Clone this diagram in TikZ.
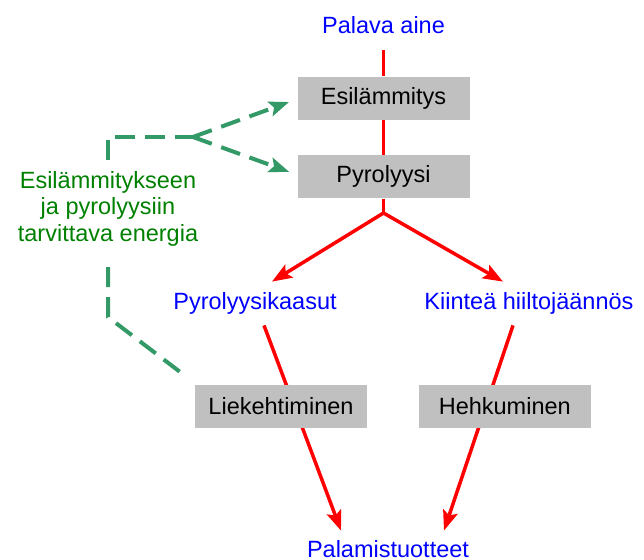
\documentclass[tikz,border=0pt]{standalone}
\usepackage{fontspec}
\setmainfont{Liberation Sans}
\usepackage{tikz}
\usetikzlibrary{arrows.meta, positioning}

\definecolor{harmaa}{RGB}{192,192,192}
\definecolor{vihrea}{RGB}{0,128,0}
\definecolor{merivihrea}{RGB}{51,153,102}

\begin{document}
\begin{tikzpicture}[x=0.5pt,y=-0.5pt,font=\fontsize{11.75}{13.25}\selectfont,
    >={Stealth[length=10pt,width=7.5pt,inset=2pt]}]
  \tikzstyle{laatikko}=[fill=harmaa,minimum width=86pt,minimum height=21.5pt,inner sep=0pt]
  \tikzstyle{aine}=[text=blue,text height=9pt,text depth=2.5pt,inner sep=0pt]
  \tikzstyle{virta}=[red,line width=1.75pt]
  \tikzstyle{lampo}=[merivihrea,line width=2pt,dash pattern=on 10pt off 5pt]

  \useasboundingbox (0,0) rectangle (644,559);

  \node[aine]                      (palava)   at (383.5,26.5)  {Palava aine};
  \node[laatikko]                  (esi)      at (383.5,98)    {Esilämmitys};
  \node[laatikko]                  (pyro)     [below=17.5pt of esi] {Pyrolyysi};
  \node[aine]                      (kaasut)   at (255,302.5)   {Pyrolyysikaasut};
  \node[aine]                      (hiili)    at (529,302.5)   {Kiinteä hiiltojäännös};
  \node[aine]                      (tuotteet) at (388,550.5)   {Palamistuotteet};
  \node[text=vihrea,align=center,minimum height=48.5pt,inner sep=0pt]
                                   (energia)  at (108,208.5)   {Esilämmitykseen\\ja pyrolyysiin\\tarvittava energia};

  \coordinate (haara)    at (383.5,213);
  \coordinate (alakulma) at (108,317);
  \coordinate (ylakulma) at (108,137);
  \coordinate (jako)     at (193,137);

  % punaiset polut
  \path[virta]
  (palava) edge [shorten <=6pt] (esi)
  (esi)    edge                 (pyro)
  (pyro)   edge                 (haara);
  \path[virta,->]
  (haara) edge ([xshift=8.5pt,yshift=4.5pt]kaasut.north)
  (haara) edge ([xshift=-13pt,yshift=4.5pt]hiili.north)
  ([xshift=4.5pt,yshift=-5.5pt]kaasut.south) edge ([xshift=-23.5pt,yshift=4pt]tuotteet.north)
  ([xshift=-8pt,yshift=-5.5pt]hiili.south)   edge ([xshift=28pt,yshift=4pt]tuotteet.north);

  \node[laatikko]                  (liekki)   at (281,406.5)   {Liekehtiminen};
  \node[laatikko]                  (hehku)    [right=25.5pt of liekki] {Hehkuminen};

  % energian kulku
  \draw[lampo] ([xshift=-7.5pt,yshift=6.5pt]liekki.north west) -- (alakulma) -- (energia.south);
  \draw[lampo] (energia.north) -- (ylakulma) -- (jako);
  \path[lampo,->]
  (jako) edge ([xshift=-4pt,yshift=-2pt]esi.west)
  (jako) edge ([xshift=-4pt,yshift=2.5pt]pyro.west);
\end{tikzpicture}
\end{document}
